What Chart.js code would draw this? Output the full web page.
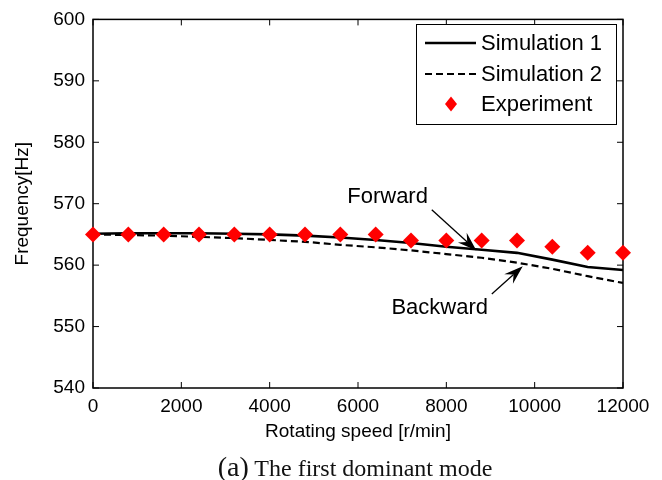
<!DOCTYPE html>
<html>
<head>
<meta charset="utf-8">
<script src="https://cdn.jsdelivr.net/npm/chart.js@4.4.1/dist/chart.umd.min.js"></script>
<style>
  html, body { margin: 0; padding: 0; background: #fff; }
  #wrap { position: relative; width: 662px; height: 480px; }
  #caption {
    position: absolute; left: 0; width: 662px; top: 451px; text-align: center;
    font-family: "Liberation Serif", "Times New Roman", serif; font-size: 24px; color: #111;
    padding-left: 48px; box-sizing: border-box;
  }
  #caption span { font-size: 28px; }
</style>
</head>
<body>
<div id="wrap">
  <canvas id="freqChart" width="662" height="480"></canvas>
  <div id="caption"><span>(a)</span> The first dominant mode</div>
</div>
<script>
// rotating speed [r/min]
var speeds = [0, 800, 1600, 2400, 3200, 4000, 4800, 5600, 6400, 7200, 8000, 8800, 9600, 10400, 11200, 12000];
// frequencies [Hz]
var sim1 = [565.1, 565.2, 565.2, 565.2, 565.1, 565.0, 564.8, 564.5, 564.1, 563.6, 563.0, 562.5, 562.0, 560.9, 559.7, 559.2];
var sim2 = [565.0, 564.9, 564.8, 564.6, 564.4, 564.1, 563.8, 563.3, 562.9, 562.4, 561.8, 561.2, 560.4, 559.4, 558.2, 557.1];
var experiment = [565, 565, 565, 565, 565, 565, 565, 565, 565, 564, 564, 564, 564, 563, 562, 562];
var xTicks = [0, 2000, 4000, 6000, 8000, 10000, 12000];
var yTicks = [540, 550, 560, 570, 580, 590, 600];
var legendLabels = ['Simulation 1', 'Simulation 2', 'Experiment'];

var FONT = "'Liberation Sans', Arial, Helvetica, sans-serif";

function pts(vals) {
  return speeds.map(function (s, i) { return {x: s, y: vals[i]}; });
}

// axes box + inward ticks
var boxPlugin = {
  id: 'box',
  beforeDatasetsDraw: function (chart) {
    var ctx = chart.ctx, a = chart.chartArea;
    var xs = chart.scales.x, ys = chart.scales.y;
    ctx.save();
    ctx.strokeStyle = '#000';
    ctx.lineWidth = 1.5;
    ctx.strokeRect(a.left, a.top, a.right - a.left, a.bottom - a.top);
    ctx.lineWidth = 1;
    ctx.beginPath();
    xTicks.forEach(function (v) {
      var px = xs.getPixelForValue(v);
      ctx.moveTo(px, a.bottom); ctx.lineTo(px, a.bottom - 6);
      ctx.moveTo(px, a.top); ctx.lineTo(px, a.top + 6);
    });
    yTicks.forEach(function (v) {
      var py = ys.getPixelForValue(v);
      ctx.moveTo(a.left, py); ctx.lineTo(a.left + 6, py);
      ctx.moveTo(a.right, py); ctx.lineTo(a.right - 6, py);
    });
    ctx.stroke();
    ctx.restore();
  }
};

function arrow(ctx, x1, y1, x2, y2) {
  var ang = Math.atan2(y2 - y1, x2 - x1);
  var len = 19, w = 6.5, back = 0.65;
  var c = Math.cos(ang), s = Math.sin(ang);
  ctx.beginPath();
  ctx.moveTo(x1, y1);
  ctx.lineTo(x2 - c * len * back, y2 - s * len * back);
  ctx.stroke();
  ctx.beginPath();
  ctx.moveTo(x2, y2);
  ctx.lineTo(x2 - c * len + s * w, y2 - s * len - c * w);
  ctx.lineTo(x2 - c * len * back, y2 - s * len * back);
  ctx.lineTo(x2 - c * len - s * w, y2 - s * len + c * w);
  ctx.closePath();
  ctx.fill();
}

// Forward / Backward labels and legend
var notesPlugin = {
  id: 'notes',
  afterDraw: function (chart) {
    var ctx = chart.ctx;
    var xs = chart.scales.x, ys = chart.scales.y;
    ctx.save();
    ctx.fillStyle = '#000';
    ctx.strokeStyle = '#000';
    ctx.lineWidth = 1.3;
    ctx.font = '22px ' + FONT;
    ctx.textAlign = 'center';
    ctx.textBaseline = 'middle';
    ctx.fillText('Forward', xs.getPixelForValue(6670), ys.getPixelForValue(571.1));
    ctx.fillText('Backward', xs.getPixelForValue(7850), ys.getPixelForValue(553.1));
    arrow(ctx, xs.getPixelForValue(7670), ys.getPixelForValue(569.0),
               xs.getPixelForValue(8680), ys.getPixelForValue(562.4));
    arrow(ctx, xs.getPixelForValue(9030), ys.getPixelForValue(555.3),
               xs.getPixelForValue(9730), ys.getPixelForValue(559.8));

    // legend
    var lx = 416, ly = 24, lw = 200, lh = 100;
    ctx.fillStyle = '#fff';
    ctx.fillRect(lx, ly, lw, lh);
    ctx.lineWidth = 1;
    ctx.strokeRect(lx + 0.5, ly + 0.5, lw, lh);
    ctx.textAlign = 'left';
    var rows = [43, 74, 104];
    chart.data.datasets.forEach(function (ds, i) {
      var y = rows[i];
      ctx.strokeStyle = '#000';
      ctx.fillStyle = '#000';
      if (ds.showLine === false) {
        ctx.fillStyle = ds.pointBackgroundColor;
        ctx.beginPath();
        ctx.moveTo(451, y - 7.5); ctx.lineTo(457, y); ctx.lineTo(451, y + 7.5); ctx.lineTo(445, y);
        ctx.closePath();
        ctx.fill();
      } else {
        ctx.lineWidth = ds.borderWidth;
        ctx.setLineDash(ds.borderDash || []);
        ctx.beginPath();
        ctx.moveTo(425, y); ctx.lineTo(476, y);
        ctx.stroke();
        ctx.setLineDash([]);
      }
      ctx.fillStyle = '#000';
      ctx.fillText(ds.label, 481, y + 1);
    });
    ctx.restore();
  }
};

var ctx = document.getElementById('freqChart').getContext('2d');
var freqChart = new Chart(ctx, {
  type: 'line',
  data: {
    datasets: [{
      label: legendLabels[0],
      data: pts(sim1),
      borderColor: '#000',
      borderWidth: 2.6,
      pointRadius: 0,
      fill: false,
      order: 2
    }, {
      label: legendLabels[1],
      data: pts(sim2),
      borderColor: '#000',
      borderWidth: 2.2,
      borderDash: [7, 4],
      pointRadius: 0,
      fill: false,
      order: 1
    }, {
      label: legendLabels[2],
      data: pts(experiment),
      showLine: false,
      pointStyle: 'rectRot',
      pointRadius: 8,
      pointBackgroundColor: '#ff0000',
      pointBorderColor: '#ff0000',
      pointBorderWidth: 0,
      clip: false,
      order: 0
    }]
  },
  options: {
    responsive: false,
    animation: false,
    layout: {padding: {top: 16, right: 39, bottom: 35, left: 0}},
    plugins: {
      legend: {display: false},
      tooltip: {enabled: false}
    },
    scales: {
      x: {
        type: 'linear',
        min: 0, max: 12000,
        afterBuildTicks: function (s) { s.ticks = xTicks.map(function (v) { return {value: v}; }); },
        afterFit: function (s) { s.height = 57; },
        grid: {display: false, drawTicks: false},
        border: {display: false},
        ticks: {color: '#000', padding: 7, maxRotation: 0, font: {family: FONT, size: 19},
                callback: function (v) { return String(v); }},
        title: {display: true, text: 'Rotating speed [r/min]', color: '#000',
                padding: {top: 0, bottom: 2}, font: {family: FONT, size: 19}}
      },
      y: {
        min: 540, max: 600,
        afterBuildTicks: function (s) { s.ticks = yTicks.map(function (v) { return {value: v}; }); },
        afterFit: function (s) { s.width = 93; },
        grid: {display: false, drawTicks: false},
        border: {display: false},
        ticks: {color: '#000', padding: 8, font: {family: FONT, size: 19},
                callback: function (v) { return String(v); }},
        title: {display: true, text: 'Frequency[Hz]', color: '#000',
                padding: {top: 11, bottom: 0}, font: {family: FONT, size: 19}}
      }
    }
  },
  plugins: [boxPlugin, notesPlugin]
});
</script>
</body>
</html>
